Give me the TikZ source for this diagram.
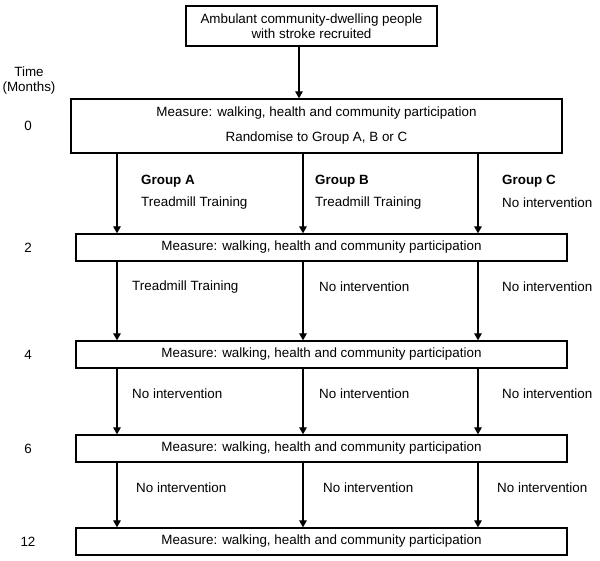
\documentclass[tikz,border=0pt]{standalone}
\usepackage{fontspec}
\setmainfont{Liberation Sans}
\usetikzlibrary{arrows.meta}

\begin{document}
\begin{tikzpicture}[x=1pt, y=-1pt,
        font=\fontsize{13.4}{15}\selectfont,
        box/.style={draw, line width=1.3pt, inner sep=0pt, align=center, minimum width=491pt, minimum height=27pt},
        lbl/.style={anchor=west, inner sep=0pt},
        tm/.style={inner sep=0pt, align=center},
        arr/.style={line width=1.2pt, -{Triangle[length=7pt, width=7.5pt]}}]
        \useasboundingbox (0,0) rectangle (600,560);

        \coordinate (colT) at (299,0);
        \coordinate (colA) at (117,0);
        \coordinate (colB) at (303,0);
        \coordinate (colC) at (478,0);

        \node[box, minimum width=251pt, minimum height=40pt] (recruit) at (311.5,26) {Ambulant community-dwelling people\\with stroke recruited};
        \node[box, minimum height=54pt] (m0) at (316.5,126) {Measure: walking, health and community participation\\[10pt]Randomise to Group A, B or C};
        \node[box] (m2) at (321.5,247.5) {Measure: walking, health and community participation};
        \node[box] (m4) at (321.5,354.5) {Measure: walking, health and community participation};
        \node[box] (m6) at (321.5,448.5) {Measure: walking, health and community participation};
        \node[box] (m12) at (321.5,541.5) {Measure: walking, health and community participation};

        \draw[arr] (recruit.south -| colT) -- (m0.north -| colT);
        \foreach \u/\v in {m0/m2, m2/m4, m4/m6, m6/m12}
            \foreach \c in {colA, colB, colC}
                \draw[arr] (\u.south -| \c) -- (\v.north -| \c);

        \node[tm] (time) at (29,80.5) {Time\\(Months)};
        \node[tm] (t0) at (28,126) {0};
        \node[tm] (t2) at (28,247.5) {2};
        \node[tm] (t4) at (28,354.5) {4};
        \node[tm] (t6) at (28,448.5) {6};
        \node[tm] (t12) at (28,541.5) {12};

        \node[lbl, font=\fontsize{13.4}{15}\selectfont\bfseries] (grpA) at (141,181) {Group A};
        \node[lbl, font=\fontsize{13.4}{15}\selectfont\bfseries] (grpB) at (315,181) {Group B};
        \node[lbl, font=\fontsize{13.4}{15}\selectfont\bfseries] (grpC) at (502,181) {Group C};
        \node[lbl] (a1) at (141,203) {Treadmill Training};
        \node[lbl] (b1) at (315,203) {Treadmill Training};
        \node[lbl] (c1) at (502,203) {No intervention};

        \node[lbl] (a2) at (132,287) {Treadmill Training};
        \node[lbl] (b2) at (319,287) {No intervention};
        \node[lbl] (c2) at (502,287) {No intervention};

        \node[lbl] (a3) at (132,394) {No intervention};
        \node[lbl] (b3) at (319,394) {No intervention};
        \node[lbl] (c3) at (502,394) {No intervention};

        \node[lbl] (a4) at (136,488) {No intervention};
        \node[lbl] (b4) at (323,488) {No intervention};
        \node[lbl] (c4) at (497,488) {No intervention};
    \end{tikzpicture}
\end{document}
